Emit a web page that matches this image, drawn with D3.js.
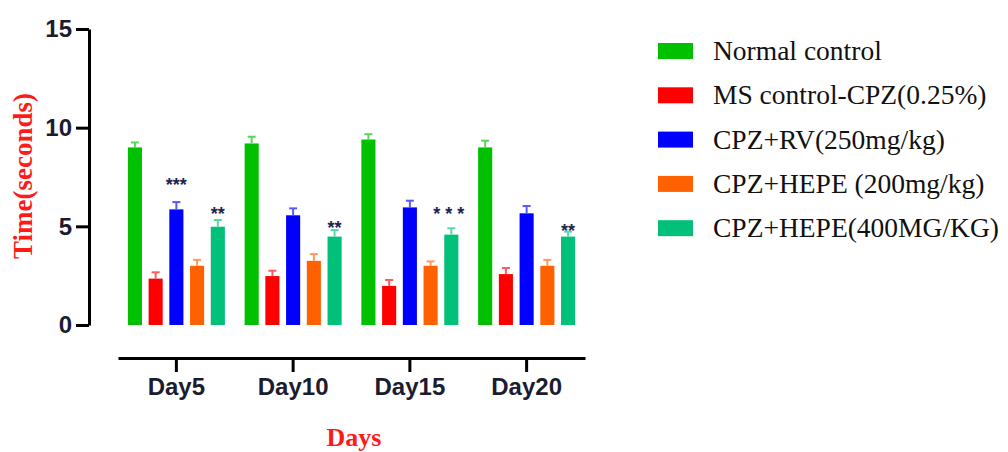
<!DOCTYPE html>
<html>
<head>
<meta charset="utf-8">
<script src="https://cdn.jsdelivr.net/npm/d3@7"></script>
<style>
  body { margin: 0; background: #fff; }
  svg { display: block; }
</style>
</head>
<body>
<div id="chart"></div>
<script>
// data
const days = ['Day5', 'Day10', 'Day15', 'Day20'];
const groups = ['Normal control', 'MS control-CPZ(0.25%)', 'CPZ+RV(250mg/kg)',
  'CPZ+HEPE (200mg/kg)', 'CPZ+HEPE(400MG/KG)'];
const colors = ['#00c000', '#ff0000', '#0000ff', '#ff6000', '#00c07a'];

const normalCtrl = [9.0, 9.2, 9.4, 9.0];
const msCtrl = [2.35, 2.48, 1.98, 2.58];
const rv250 = [5.86, 5.56, 5.96, 5.66];
const hepe200 = [3.0, 3.25, 3.0, 3.0];
const hepe400 = [4.98, 4.48, 4.58, 4.48];

const normalErr = [0.25, 0.34, 0.27, 0.34];
const msErr = [0.32, 0.27, 0.3, 0.31];
const rvErr = [0.37, 0.35, 0.34, 0.37];
const hepe200Err = [0.3, 0.34, 0.22, 0.3];
const hepe400Err = [0.34, 0.33, 0.32, 0.25];

const yTicks = [0, 5, 10, 15];

// significance marks: day, group index, text, height in seconds
const stars = [
  {day: 'Day5', g: 2, mark: '***', at: 7.35, spacing: 0},
  {day: 'Day5', g: 4, mark: '**', at: 5.88, spacing: 0},
  {day: 'Day10', g: 4, mark: '**', at: 5.17, spacing: 0},
  {day: 'Day15', g: 4, mark: '***', at: 5.88, spacing: 5},
  {day: 'Day20', g: 4, mark: '**', at: 5.02, spacing: 0}
];

const seriesVals = [normalCtrl, msCtrl, rv250, hepe200, hepe400];
const seriesErr = [normalErr, msErr, rvErr, hepe200Err, hepe400Err];

const rows = [];
days.forEach((d, i) => {
  groups.forEach((g, j) => {
    rows.push({day: d, g: j, value: seriesVals[j][i], err: seriesErr[j][i]});
  });
});

const width = 1008;
const height = 452;

const svg = d3.select('#chart')
    .append('svg')
    .attr('width', width)
    .attr('height', height);

// scales
const x = d3.scaleBand()
    .domain(days)
    .range([118, 585])
    .padding(0);

const xInner = d3.scaleBand()
    .domain(d3.range(groups.length))
    .range([-48.5, 48.5])
    .paddingInner(0.32)
    .paddingOuter(0);

const y = d3.scaleLinear()
    .domain([0, 15])
    .range([325, 29]);

const cx = (d) => x(d.day) + x.bandwidth() / 2;

// y axis
const yAxis = svg.append('g')
    .attr('transform', 'translate(89,0)')
    .call(d3.axisLeft(y).tickValues(yTicks).tickSize(13)
        .tickSizeOuter(0).tickPadding(4));
yAxis.selectAll('path, line')
    .attr('stroke', '#000')
    .attr('stroke-width', 3);
yAxis.selectAll('text')
    .attr('fill', '#1c1c30')
    .style('font-family', 'Arial, "Liberation Sans", sans-serif')
    .style('font-size', '24px')
    .style('font-weight', 'bold');

// x axis
const xAxis = svg.append('g')
    .attr('transform', 'translate(0,358)')
    .call(d3.axisBottom(x).tickSize(14).tickSizeOuter(0));
xAxis.selectAll('path, line')
    .attr('stroke', '#000')
    .attr('stroke-width', 3);
xAxis.selectAll('text')
    .attr('y', 37)
    .attr('dy', 0)
    .attr('fill', '#1c1c30')
    .style('font-family', 'Arial, "Liberation Sans", sans-serif')
    .style('font-size', '24px')
    .style('font-weight', 'bold');

// bars
svg.selectAll('.bar')
    .data(rows)
    .enter()
    .append('rect')
    .attr('class', 'bar')
    .attr('x', (d) => cx(d) + xInner(d.g))
    .attr('y', (d) => y(d.value))
    .attr('width', xInner.bandwidth())
    .attr('height', (d) => y(0) - y(d.value))
    .attr('fill', (d) => colors[d.g]);

// error bars (upper only)
const errColor = (d) => d3.interpolateRgb(colors[d.g], '#fff')(0.35);
const errG = svg.selectAll('.err')
    .data(rows)
    .enter()
    .append('g')
    .attr('class', 'err')
    .attr('stroke', errColor)
    .attr('stroke-width', 2);
errG.append('line')
    .attr('x1', (d) => cx(d) + xInner(d.g) + xInner.bandwidth() / 2)
    .attr('x2', (d) => cx(d) + xInner(d.g) + xInner.bandwidth() / 2)
    .attr('y1', (d) => y(d.value))
    .attr('y2', (d) => y(d.value + d.err));
errG.append('line')
    .attr('x1', (d) => cx(d) + xInner(d.g) + xInner.bandwidth() / 2 - 4)
    .attr('x2', (d) => cx(d) + xInner(d.g) + xInner.bandwidth() / 2 + 4)
    .attr('y1', (d) => y(d.value + d.err))
    .attr('y2', (d) => y(d.value + d.err));

// significance stars
svg.selectAll('.star')
    .data(stars)
    .enter()
    .append('text')
    .attr('class', 'star')
    .attr('x', (d) => cx(d) + xInner(d.g) + xInner.bandwidth() / 2)
    .attr('y', (d) => y(d.at))
    .attr('dy', '0.6em')
    .attr('text-anchor', 'middle')
    .attr('fill', '#1b2550')
    .style('font-family', 'Arial, "Liberation Sans", sans-serif')
    .style('font-size', '18px')
    .style('font-weight', 'bold')
    .style('letter-spacing', (d) => d.spacing + 'px')
    .text((d) => d.mark);

// axis titles
svg.append('text')
    .attr('transform', 'translate(32,176) rotate(-90)')
    .attr('text-anchor', 'middle')
    .attr('fill', '#ff1a1a')
    .style('font-family', '"Times New Roman", "Liberation Serif", serif')
    .style('font-size', '27px')
    .style('font-weight', 'bold')
    .text('Time(seconds)');

svg.append('text')
    .attr('x', 354)
    .attr('y', 446)
    .attr('text-anchor', 'middle')
    .attr('fill', '#ff1a1a')
    .style('font-family', '"Times New Roman", "Liberation Serif", serif')
    .style('font-size', '26px')
    .style('font-weight', 'bold')
    .text('Days');

// legend
const legend = svg.selectAll('.legend')
    .data(groups)
    .enter()
    .append('g')
    .attr('class', 'legend')
    .attr('transform', (d, i) => `translate(658,${51 + i * 44.3})`);
legend.append('rect')
    .attr('x', 0)
    .attr('y', -8)
    .attr('width', 35)
    .attr('height', 16)
    .attr('fill', (d, i) => colors[i]);
legend.append('text')
    .attr('x', 55)
    .attr('y', 0)
    .attr('dy', '0.33em')
    .attr('fill', '#111')
    .style('font-family', '"Times New Roman", "Liberation Serif", serif')
    .style('font-size', '27.5px')
    .text((d) => d);
</script>
</body>
</html>
